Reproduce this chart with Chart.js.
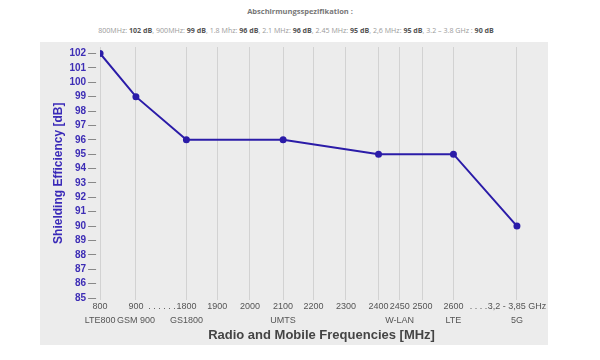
<!doctype html>
<html>
    <head>
        <title>Abschirmungsspezifikation</title>
        <script src="https://cdn.jsdelivr.net/npm/chart.js@4/dist/chart.umd.min.js"></script>
        <style>
            body {
                margin: 0;
                width: 600px;
                height: 360px;
                background: #fff;
                position: relative;
                font-family: "Open Sans", sans-serif;
            }
            #head {
                position: absolute;
                left: 0;
                top: 6px;
                width: 600px;
                text-align: center;
                color: #777;
                font-size: 7.5px;
                font-weight: bold;
            }
            #spec {
                position: absolute;
                left: 0;
                top: 25px;
                width: 592px;
                text-align: center;
                color: #9a9a9a;
                font-size: 7.1px;
            }
            #spec b {
                color: #555;
            }
            #panel {
                position: absolute;
                left: 40px;
                top: 42px;
                width: 508px;
                height: 303px;
                background: #ececec;
            }
        </style>
    </head>

    <body>
        <div id="head">Abschirmungsspezifikation :</div>
        <div id="spec">800MHz: <b>102 dB</b>, 900MHz: <b>99 dB</b>, 1.8 Mhz: <b>96 dB</b>, 2.1 MHz: <b>96 dB</b>, 2.45 MHz: <b>95 dB</b>, 2,6 MHz: <b>95 dB</b>, 3.2 – 3.8 GHz : <b>90 dB</b></div>
        <div id="panel">
            <canvas id="myChart" width="508" height="303"></canvas>
        </div>
        <script>
            // ticks along the (broken) frequency axis
            var freqLabels = ['800', '900', '. . . . . .', '1800', '1900', '2000', '2100', '2200', '2300',
                '2400', '2450', '2500', '2600', '. . . . .', '3,2 - 3,85 GHz'];
            var bandLabels = ['LTE800', 'GSM 900', '', 'GS1800', '', '', 'UMTS', '', '',
                '', 'W-LAN', '', 'LTE', '', '5G'];
            // axis coordinate of each tick (roughly 1 unit per 100 MHz, with breaks)
            var tickPos = [0, 1.1, 1.9, 2.65, 3.6, 4.6, 5.62, 6.55, 7.55, 8.55, 9.2, 9.9, 10.85, 11.7, 12.8];
            // shielding in dB at each tick (null = no measurement)
            var shielding = [102, 99, null, 96, null, null, 96, null, null, 95, null, null, 95, null, 90];

            var yMin = 85;
            var yMax = 102;

            var points = [];
            for (var i = 0; i < tickPos.length; i++) {
                if (shielding[i] !== null) {
                    points.push({x: tickPos[i], y: shielding[i]});
                }
            }

            function isGap(idx) {
                return freqLabels[idx] !== undefined && freqLabels[idx].charAt(0) === '.';
            }

            var ctx = document.getElementById('myChart').getContext('2d');
            var myChart = new Chart(ctx, {
                type: 'line',
                data: {
                    datasets: [{
                        label: 'Shielding Efficiency',
                        data: points,
                        borderColor: '#2b1ca8',
                        backgroundColor: '#2b1ca8',
                        borderWidth: 2,
                        pointRadius: 2.5,
                        pointHoverRadius: 3,
                        tension: 0
                    }]
                },
                options: {
                    responsive: false,
                    animation: false,
                    layout: {
                        padding: {left: 11, right: 0, top: 0, bottom: 2}
                    },
                    plugins: {
                        legend: {display: false},
                        tooltip: {enabled: false}
                    },
                    scales: {
                        x: {
                            type: 'linear',
                            min: 0,
                            max: 13.6,
                            afterBuildTicks: function (axis) {
                                axis.ticks = tickPos.map(function (p) { return {value: p}; });
                            },
                            border: {display: false},
                            grid: {
                                color: function (c) { return isGap(c.index) ? 'rgba(0,0,0,0)' : '#d2d2d2'; },
                                drawTicks: false
                            },
                            ticks: {
                                autoSkip: false,
                                maxRotation: 0,
                                padding: 0,
                                color: '#555',
                                font: {family: 'Liberation Sans', size: 9, lineHeight: 1.55},
                                callback: function (v, idx) {
                                    return [freqLabels[idx], bandLabels[idx]];
                                }
                            },
                            title: {
                                display: true,
                                text: 'Radio and Mobile Frequencies [MHz]',
                                color: '#444',
                                font: {family: 'Liberation Sans', size: 13, weight: 'bold'},
                                padding: {top: 0, bottom: 0}
                            }
                        },
                        y: {
                            min: 84.9,
                            max: 102.45,
                            afterBuildTicks: function (axis) {
                                var t = [];
                                for (var v = yMin; v <= yMax; v++) {
                                    t.push({value: v});
                                }
                                axis.ticks = t;
                            },
                            afterFit: function (axis) {
                                // let the plot reach the top of the grey panel
                                axis.paddingTop = 0;
                            },
                            border: {display: false},
                            grid: {
                                drawOnChartArea: false,
                                tickLength: 12,
                                tickColor: '#888',
                                tickBorderDash: [8, 4]
                            },
                            ticks: {
                                autoSkip: false,
                                padding: 2,
                                color: '#3d2db5',
                                font: {family: 'Liberation Sans', size: 10, weight: 'bold'}
                            },
                            title: {
                                display: true,
                                text: 'Shielding Efficiency [dB]',
                                color: '#3a2ab8',
                                font: {family: 'Liberation Sans', size: 12, weight: 'bold'},
                                padding: {top: 0, bottom: 2}
                            }
                        }
                    }
                }
            });
        </script>
    </body>

</html>
